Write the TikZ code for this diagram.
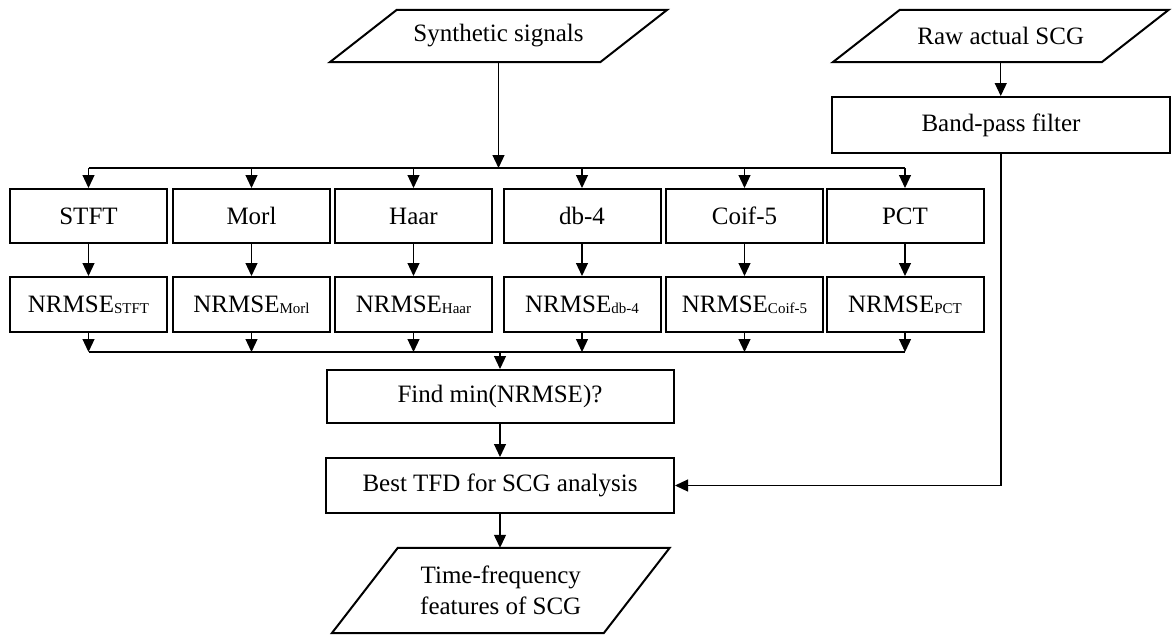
\documentclass[tikz,border=0pt]{standalone}
\usepackage{fontspec}
\setmainfont{Liberation Serif}
\usetikzlibrary{arrows.meta,calc}
\newcommand{\nsub}[1]{\raisebox{-1pt}{\fontsize{15}{15}\selectfont #1}}
\tikzset{
  box/.style={draw, line width=2pt, minimum width=157pt, inner sep=0pt, font=\fontsize{25}{29}\selectfont},
  ptext/.style={inner sep=0pt, font=\fontsize{25}{31}\selectfont, align=center},
  para/.style={draw, line width=2pt, line join=miter},
  conn/.style={line width=1.2pt, -{Triangle[width=12pt,length=13pt]}},
  plain/.style={line width=1.2pt}
}
\begin{document}
\begin{tikzpicture}[x=1pt,y=-1pt]
\useasboundingbox (0,0) rectangle (1172,635);
% input parallelograms
\node[ptext, minimum width=270pt, minimum height=52pt] (syn) at (498.5,36) {Synthetic signals};
\draw[para] ($(syn.south west)+(-33.5,0)$) -- ($(syn.south east)+(-33.5,0)$) -- ($(syn.north east)+(33.5,0)$) -- ($(syn.north west)+(33.5,0)$) -- cycle;
\node[ptext, minimum width=268.5pt, minimum height=52pt] (raw) at (1000.75,36) {Raw actual SCG};
\draw[para] ($(raw.south west)+(-33.5,0)$) -- ($(raw.south east)+(-33.5,0)$) -- ($(raw.north east)+(33.5,0)$) -- ($(raw.north west)+(33.5,0)$) -- cycle;
\node[box, minimum width=338pt, minimum height=56pt] (bp) at (1001,125) {Band-pass filter};
% row 1
\node[box, minimum height=54pt] (stft) at (88.5,216) {STFT};
\node[box, minimum height=54pt] (morl) at (251.5,216) {Morl};
\node[box, minimum height=54pt] (haar) at (413.5,216) {Haar};
\node[box, minimum height=54pt] (db) at (582,216) {db-4};
\node[box, minimum height=54pt] (coif) at (744.5,216) {Coif-5};
\node[box, minimum height=54pt] (pct) at (905,216) {PCT};
% row 2
\node[box, minimum height=55pt] (nstft) at (88.5,304.5) {NRMSE\nsub{STFT}};
\node[box, minimum height=55pt] (nmorl) at (251.5,304.5) {NRMSE\nsub{Morl}};
\node[box, minimum height=55pt] (nhaar) at (413.5,304.5) {NRMSE\nsub{Haar}};
\node[box, minimum height=55pt] (ndb) at (582,304.5) {NRMSE\nsub{db-4}};
\node[box, minimum height=55pt] (ncoif) at (744.5,304.5) {NRMSE\nsub{Coif-5}};
\node[box, minimum height=55pt] (npct) at (905,304.5) {NRMSE\nsub{PCT}};
% lower chain
\node[box, minimum width=347pt, minimum height=53pt] (find) at (500,396.5) {Find min(NRMSE)?};
\node[box, minimum width=348pt, minimum height=55pt] (best) at (500,485.5) {Best TFD for SCG analysis};
\node[ptext, minimum width=271.5pt, minimum height=85pt] (tf) at (500.75,590.5) {Time-frequency\\features of SCG};
\draw[para] ($(tf.south west)+(-33,0)$) -- ($(tf.south east)+(-33,0)$) -- ($(tf.north east)+(33,0)$) -- ($(tf.north west)+(33,0)$) -- cycle;
% bus coordinates
\coordinate (bt) at (498.5,168);
\coordinate (bb) at (500,352);
% connectors
\draw[conn] (syn.south) -- (bt);
\draw[plain] (stft.north |- bt) -- (pct.north |- bt);
\foreach \n in {stft,morl,haar,db,coif,pct} {
  \draw[conn] (\n.north |- bt) -- (\n.north);
}
\foreach \a/\b in {stft/nstft,morl/nmorl,haar/nhaar,db/ndb,coif/ncoif,pct/npct} {
  \draw[conn] (\a.south) -- (\b.north);
  \draw[conn] (\b.south) -- (\b.south |- bb);
}
\draw[plain] (nstft.south |- bb) -- (npct.south |- bb);
\draw[conn] (find.north |- bb) -- (find.north);
\draw[conn] (find.south) -- (best.north);
\draw[conn] (best.south) -- (best.south |- tf.north);
\draw[conn] (raw.south) -- (raw.south |- bp.north);
\draw[conn] (bp.south) |- (best.east);
\end{tikzpicture}
\end{document}
